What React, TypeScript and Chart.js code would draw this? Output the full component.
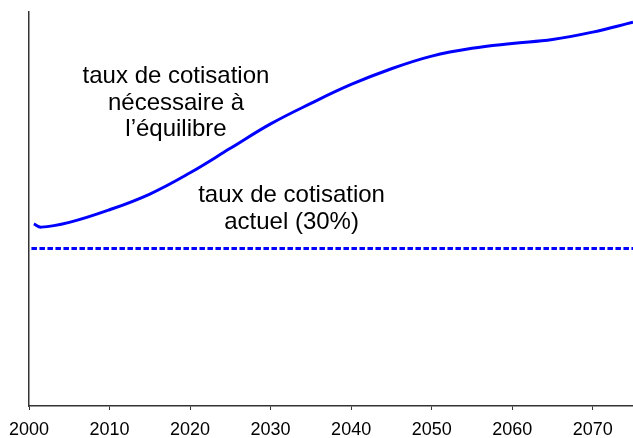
import React, { useEffect, useRef } from "react";
import { Chart, registerables } from "chart.js";

Chart.register(...registerables);

const years = [2000.6, 2001.5, 2005, 2010, 2015, 2020, 2025, 2030, 2035, 2040, 2045, 2050, 2055, 2060, 2065, 2070, 2075];
const requiredRate = [33.1, 32.7, 33.3, 34.9, 36.9, 39.6, 42.7, 45.8, 48.4, 50.8, 52.8, 54.4, 55.4, 56.0, 56.5, 57.45, 58.7];
const currentRateYears = [2000.3, 2075];
const currentRate = [30, 30];
const xTickStep = 10;
const xMin = 2000;
const xMax = 2075;
const yMin = 10;
const yMax = 60;

const labelRequired = ["taux de cotisation", "nécessaire à", "l’équilibre"];
const labelCurrent = ["taux de cotisation", "actuel (30%)"];

const FONT = "'Liberation Sans', Arial, sans-serif";

const textPlugin = {
  id: "annot",
  afterDraw(chart: any) {
    const ctx = chart.ctx;
    const xs = chart.scales.x;
    const ys = chart.scales.y;
    ctx.save();
    ctx.fillStyle = "#000";
    ctx.font = `24px ${FONT}`;
    ctx.textAlign = "center";
    ctx.textBaseline = "alphabetic";
    const x1 = xs.getPixelForValue(2018.25);
    const y1 = ys.getPixelForValue(51.0);
    labelRequired.forEach((t, i) => ctx.fillText(t, x1, y1 + i * 26.7));
    const x2 = xs.getPixelForValue(2032.6);
    const y2 = ys.getPixelForValue(35.9);
    labelCurrent.forEach((t, i) => ctx.fillText(t, x2, y2 + i * 27.5));
    ctx.restore();
  },
};

export default function App() {
  const ref = useRef<HTMLCanvasElement>(null);
  useEffect(() => {
    document.body.style.margin = "0";
    const chart = new Chart(ref.current!, {
      type: "line",
      data: {
        datasets: [
          {
            data: years.map((x, i) => ({ x, y: requiredRate[i] })),
            borderColor: "#0000FF",
            borderWidth: 3,
            pointRadius: 0,
            tension: 0.4,
            fill: false,
          },
          {
            data: currentRateYears.map((x, i) => ({ x, y: currentRate[i] })),
            borderColor: "#0000FF",
            borderWidth: 3,
            borderDash: [5.5, 2.5],
            pointRadius: 0,
            fill: false,
          },
        ],
      },
      options: {
        responsive: false,
        animation: false,
        layout: { padding: { left: 28, right: 0, top: 12, bottom: 0 } },
        plugins: { legend: { display: false }, tooltip: { enabled: false } },
        scales: {
          x: {
            type: "linear",
            min: xMin,
            max: xMax,
            afterFit: (s: any) => {
              s.height = 32;
            },
            ticks: {
              stepSize: xTickStep,
              includeBounds: false,
              autoSkip: false,
              maxRotation: 0,
              padding: 9,
              color: "#000",
              font: { family: FONT, size: 18 },
              callback: (v: any) => String(v),
            },
            grid: { drawOnChartArea: false, tickLength: 4, color: "#333", lineWidth: 1 },
            border: { color: "#333", width: 1.5 },
          },
          y: {
            type: "linear",
            min: yMin,
            max: yMax,
            ticks: { display: false },
            grid: { drawOnChartArea: false, drawTicks: false },
            border: { color: "#333", width: 1.5 },
          },
        },
      },
      plugins: [textPlugin],
    });
    return () => chart.destroy();
  }, []);
  return (
    <div style={{ position: "absolute", left: 0, top: 0, width: 633, height: 438 }}>
      <canvas ref={ref} width={633} height={438} />
    </div>
  );
}
